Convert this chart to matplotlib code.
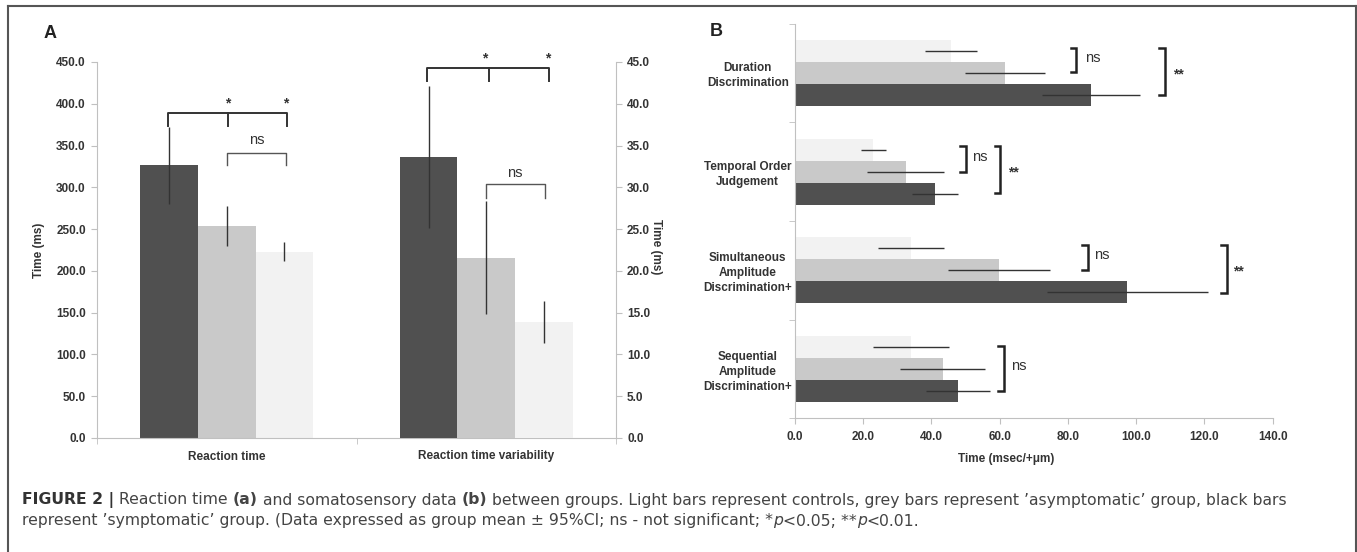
import matplotlib
matplotlib.use('Agg')
import matplotlib.pyplot as plt
import numpy as np
from matplotlib.lines import Line2D

plt.rcParams['font.family'] = ['Liberation Sans', 'DejaVu Sans']

# ---- panel A: reaction time (order: symptomatic, asymptomatic, control)
rt_labels = ['Reaction time', 'Reaction time variability']
rt_mean = [326.5, 254.0, 223.0]
rt_ci = [46.0, 24.0, 11.0]
rtv_mean = [33.6, 21.6, 13.9]
rtv_ci = [8.5, 6.8, 2.5]

# ---- panel B: somatosensory tasks
tasks = ['Duration\nDiscrimination', 'Temporal Order\nJudgement',
         'Simultaneous\nAmplitude\nDiscrimination+',
         'Sequential\nAmplitude\nDiscrimination+']
ctrl_mean = [45.8, 23.0, 34.0, 34.0]
ctrl_ci = [7.6, 3.8, 9.7, 11.2]
asym_mean = [61.6, 32.4, 59.8, 43.3]
asym_ci = [11.8, 11.4, 15.0, 12.5]
symp_mean = [86.8, 41.0, 97.4, 47.7]
symp_ci = [14.4, 6.7, 23.6, 9.4]

DARK, GREY, LIGHT = '#505050', '#c9c9c9', '#f2f2f2'
SPINE = '#c0c0c0'
TXT = '#333333'
TICKSIZE = 8.5
W, H = 1357, 552

fig = plt.figure(figsize=(W / 100, H / 100), dpi=100)

# outer frame (open at the bottom)
for xs, ys in [([8, 8], [552, 6]), ([8, 1356], [6, 6]), ([1356, 1356], [6, 552])]:
    fig.add_artist(Line2D([x / W for x in xs], [1 - y / H for y in ys], color='#555555', lw=1.5))

# ================= panel A =================
axA = fig.add_axes([97 / W, 1 - 438 / H, 519 / W, 376 / H])
axA2 = axA.twinx()
bw = 0.222
offs = [-bw, 0, bw]
cols = [DARK, GREY, LIGHT]
for k in range(3):
    axA.bar(0 + offs[k], rt_mean[k], width=bw, color=cols[k])
    axA.errorbar(0 + offs[k], rt_mean[k], yerr=rt_ci[k], fmt='none', ecolor='#333333',
                 elinewidth=1, capsize=0)
    axA2.bar(1 + offs[k], rtv_mean[k], width=bw, color=cols[k])
    axA2.errorbar(1 + offs[k], rtv_mean[k], yerr=rtv_ci[k], fmt='none', ecolor='#333333',
                  elinewidth=1, capsize=0)

axA.set_xlim(-0.5, 1.5)
axA.set_ylim(0, 450)
axA2.set_ylim(0, 45)
for a in (axA, axA2):
    for s in a.spines.values():
        s.set_color(SPINE)
    a.spines['top'].set_visible(False)
axA.spines['right'].set_visible(False)
axA2.spines['left'].set_visible(False)
axA2.spines['bottom'].set_visible(False)

axA.set_xticks([0, 1])
axA.set_xticklabels(rt_labels)
axA.set_xticks([-0.5, 0.5, 1.5], minor=True)
axA.tick_params(axis='x', which='major', length=0, pad=9)
axA.tick_params(axis='x', which='minor', length=4, color=SPINE)
axA.set_yticks(np.arange(0, 451, 50))
axA.set_yticklabels([f'{v:.1f}' for v in np.arange(0, 451, 50)])
axA.tick_params(axis='y', length=4, color=SPINE, pad=4)
axA2.set_yticks(np.arange(0, 45.1, 5))
axA2.set_yticklabels([f'{v:.1f}' for v in np.arange(0, 45.1, 5)])
axA2.tick_params(axis='y', length=4, color=SPINE, pad=4)
for a in (axA, axA2):
    for lbl in a.get_xticklabels() + a.get_yticklabels():
        lbl.set_fontweight('bold')
        lbl.set_fontsize(TICKSIZE)
        lbl.set_color(TXT)
axA.set_ylabel('Time (ms)', fontsize=TICKSIZE, fontweight='bold', color=TXT)
axA.yaxis.set_label_coords(-0.1, 0.5)
axA2.set_ylabel('Time (ms)', fontsize=TICKSIZE, fontweight='bold', color=TXT, rotation=270)
axA2.yaxis.set_label_coords(1.089, 0.51)


def bracket_up(ax, x0, x1, y, leg, xm=None, color='#333333', lw=1.4):
    ax.plot([x0, x0, x1, x1], [y - leg, y, y, y - leg], color=color, lw=lw,
            clip_on=False, solid_joinstyle='round')
    if xm is not None:
        ax.plot([xm, xm], [y, y - leg], color=color, lw=lw, clip_on=False)


def star(ax, x, y):
    ax.text(x, y, '*', ha='center', va='center', fontsize=10, fontweight='bold',
            color=TXT, clip_on=False)


# reaction time brackets (left scale units)
bracket_up(axA, -0.226, 0.232, 389, 15, xm=0.005)
star(axA, 0.005, 400)
star(axA, 0.228, 400)
bracket_up(axA, 0.0, 0.23, 341, 14, color='#555555', lw=1.0)
axA.text(0.115, 357, 'ns', ha='center', va='center', fontsize=10.5, color=TXT)
# variability brackets
bracket_up(axA, 0.77, 1.24, 442.6, 15, xm=1.01)
star(axA, 0.995, 454)
star(axA, 1.235, 454)
bracket_up(axA, 0.999, 1.226, 304, 17, color='#555555', lw=1.0)
axA.text(1.11, 317, 'ns', ha='center', va='center', fontsize=10.5, color=TXT)

fig.text(50 / W, 1 - 33 / H, 'A', ha='center', va='center', fontsize=13, fontweight='bold', color='#222222')

# ================= panel B =================
axB = fig.add_axes([795 / W, 1 - 418.3 / H, 477.7 / W, 394.7 / H])
yc = np.arange(len(tasks))
bh = 0.223
for means, cis, off, col in [(ctrl_mean, ctrl_ci, -bh, LIGHT),
                             (asym_mean, asym_ci, 0, GREY),
                             (symp_mean, symp_ci, bh, DARK)]:
    axB.barh(yc + off, means, height=bh, color=col)
    axB.errorbar(means, yc + off, xerr=cis, fmt='none', ecolor='#333333', elinewidth=1, capsize=0)

axB.set_xlim(0, 140)
axB.set_ylim(3.5, -0.5)
for s in ['top', 'right']:
    axB.spines[s].set_visible(False)
for s in ['left', 'bottom']:
    axB.spines[s].set_color(SPINE)
axB.set_xticks(np.arange(0, 141, 20))
axB.set_xticklabels([f'{v:.1f}' for v in np.arange(0, 141, 20)])
axB.tick_params(axis='x', length=4, color=SPINE, pad=5)
axB.set_yticks(yc)
axB.set_yticklabels(tasks, ha='center', multialignment='center', linespacing=1.3)
axB.set_yticks(np.arange(-0.5, 3.6, 1), minor=True)
axB.tick_params(axis='y', which='major', length=0, pad=34)
axB.tick_params(axis='y', which='minor', length=4, color=SPINE)
for lbl in axB.get_xticklabels() + axB.get_yticklabels():
    lbl.set_fontweight('bold')
    lbl.set_fontsize(TICKSIZE)
    lbl.set_color(TXT)
axB.set_xlabel('Time (msec/+\u03bcm)', fontsize=TICKSIZE, fontweight='bold', color=TXT)
axB.xaxis.set_label_coords(0.442, -0.088)


def bracket_right(ax, x, y0, y1, arm=1.6, lw=1.8):
    ax.plot([x - arm, x, x, x - arm], [y0, y0, y1, y1], color='#222222', lw=lw,
            clip_on=False, solid_joinstyle='miter')


b_brackets = [  # vertical x, y from, y to, label, label x
    (82.4, -0.25, -0.01, 'ns', 85.0),
    (108.4, -0.25, 0.225, '**', 110.7),
    (50.0, 0.74, 1.0, 'ns', 51.8),
    (60.1, 0.74, 1.22, '**', 62.4),
    (85.8, 1.743, 1.996, 'ns', 87.6),
    (126.5, 1.743, 2.226, '**', 128.5),
    (61.2, 2.763, 3.219, 'ns', 63.2),
]
for xv, y0, y1, lab, xl in b_brackets:
    bracket_right(axB, xv, y0, y1)
    if lab == 'ns':
        axB.text(xl, (y0 + y1) / 2 - 0.02, lab, ha='left', va='center', fontsize=10.5, color=TXT)
    else:
        axB.text(xl, (y0 + y1) / 2 + 0.03, lab, ha='left', va='center', fontsize=10,
                 fontweight='bold', color=TXT)

fig.text(716 / W, 1 - 32 / H, 'B', ha='center', va='center', fontsize=13, fontweight='bold', color='#222222')

# ================= caption =================
cap_font = 'DejaVu Sans'
cap_size = 11.25
CAPC = '#444444'
line1 = [('FIGURE 2 |', dict(fontweight='bold', color='#333333')),
         (' Reaction time ', {}), ('(a)', dict(fontweight='bold')),
         (' and somatosensory data ', {}), ('(b)', dict(fontweight='bold')),
         (' between groups. Light bars represent controls, grey bars represent \u2019asymptomatic\u2019 group, black bars', {})]
line2 = [('represent \u2019symptomatic\u2019 group. (Data expressed as group mean \u00b1 95%CI; ns - not significant; *', {}),
         ('p', dict(fontstyle='italic')), ('<0.05; **', {}), ('p', dict(fontstyle='italic')), ('<0.01.', {})]

r = fig.canvas.get_renderer()


def adv(s, st):
    t1 = fig.text(0, 0, s + '|', family=cap_font, fontsize=cap_size, **st)
    t2 = fig.text(0, 0, '|', family=cap_font, fontsize=cap_size, **st)
    w = t1.get_window_extent(r).width - t2.get_window_extent(r).width
    t1.remove()
    t2.remove()
    return w


for ypx, parts in [(500, line1), (521, line2)]:
    x = 22
    for s, st in parts:
        kw = dict(color=CAPC)
        kw.update(st)
        fig.text(x / W, 1 - ypx / H, s, family=cap_font, fontsize=cap_size, ha='left', va='center', **kw)
        x += adv(s, {k: v for k, v in st.items() if k != 'color'})

fig.savefig('out.png', dpi=100)
